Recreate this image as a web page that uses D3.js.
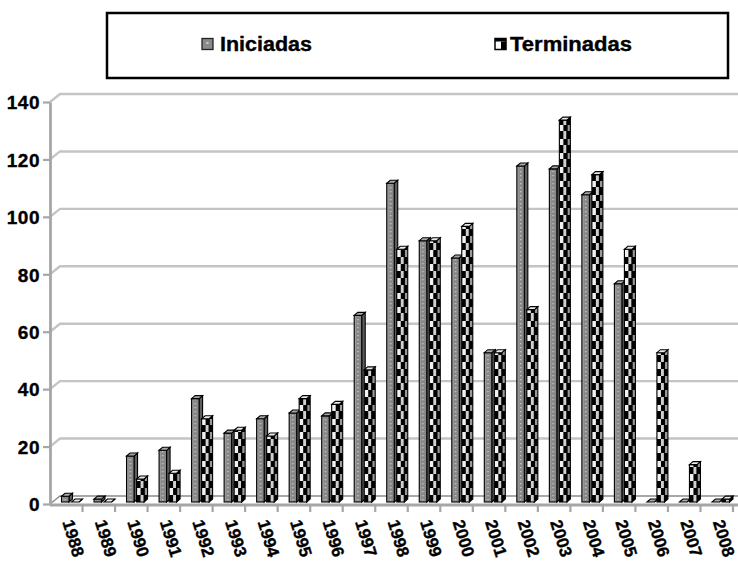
<!DOCTYPE html>
<html>
<head>
<meta charset="utf-8">
<script src="https://cdn.jsdelivr.net/npm/d3@7"></script>
<style>
  body { margin: 0; background: #fff; }
  svg text { font-family: "Liberation Sans", Arial, sans-serif; font-weight: bold; fill: #000; stroke: #000; stroke-width: 0.35px; }
</style>
</head>
<body>
<div id="chart"></div>
<script>
// Obras iniciadas / terminadas por año
var years = ["1988", "1989", "1990", "1991", "1992", "1993", "1994", "1995", "1996", "1997", "1998",
             "1999", "2000", "2001", "2002", "2003", "2004", "2005", "2006", "2007", "2008"];
var iniciadas  = [2, 1, 16, 18, 36, 24, 29, 31, 30, 65, 111, 91, 85, 52, 117, 116, 107, 76, 0, 0, 0];
var terminadas = [0, 0, 8, 10, 29, 25, 23, 36, 34, 46, 88, 91, 96, 52, 67, 133, 114, 88, 52, 13, 1];
var yTicks = [0, 20, 40, 60, 80, 100, 120, 140];
var seriesNames = ["Iniciadas", "Terminadas"];

var svgWidth = 738;
var svgHeight = 562;

// 3D depth of the back wall
var wallDx = 10, wallDy = -8;
// depth of each column
var barW = 7.5, barDx = 3.5, barDy = 3;

var svg = d3.select("#chart")
  .append("svg")
  .attr("width", svgWidth)
  .attr("height", svgHeight);

var x = d3.scaleBand()
  .domain(years)
  .range([50, 733]);

var y = d3.scaleLinear()
  .domain([0, 140])
  .range([504, 102]);

// Patterns
var defs = svg.append("defs");

var pI = defs.append("pattern").attr("id", "iniFront")
  .attr("patternUnits", "userSpaceOnUse").attr("width", 8).attr("height", 4);
pI.append("rect").attr("width", 8).attr("height", 4).attr("fill", "#878787");
pI.append("rect").attr("x", 0).attr("width", 2).attr("height", 4).attr("fill", "#999");
pI.append("rect").attr("x", 3.2).attr("y", 1).attr("width", 1.2).attr("height", 1.3).attr("fill", "#d6d6d6");

var pT = defs.append("pattern").attr("id", "terFront")
  .attr("patternUnits", "userSpaceOnUse").attr("width", 8).attr("height", 14);
pT.append("rect").attr("width", 8).attr("height", 14).attr("fill", "#000");
pT.append("rect").attr("x", 0).attr("y", 0).attr("width", 4).attr("height", 7).attr("fill", "#f2f2f2");
pT.append("rect").attr("x", 4).attr("y", 7).attr("width", 4).attr("height", 7).attr("fill", "#d0d0d0");

var pTs = defs.append("pattern").attr("id", "terSide")
  .attr("patternUnits", "userSpaceOnUse").attr("width", 20).attr("height", 14);
pTs.append("rect").attr("width", 20).attr("height", 14).attr("fill", "#000");
pTs.append("rect").attr("y", 0).attr("width", 20).attr("height", 7).attr("fill", "#9a9a9a");

// Gridlines on side wall and back wall
svg.append("g")
  .selectAll("path")
  .data(yTicks)
  .enter()
  .append("path")
  .attr("d", d => `M50,${y(d)}L${50 + wallDx},${y(d) + wallDy}L${svgWidth},${y(d) + wallDy}`)
  .attr("fill", "none")
  .attr("stroke", d => d === 0 ? "#8c8c8c" : "#c4c4c4")
  .attr("stroke-width", d => d === 0 ? 1.5 : 2.4);

// Y axis
var leftAxis = d3.axisLeft(y).tickValues(yTicks).tickSize(7).tickSizeOuter(0).tickPadding(3);
var yAxis = svg.append("g")
  .attr("transform", "translate(50,0)")
  .call(leftAxis);
yAxis.select(".domain").attr("stroke", "#a6a6a6").attr("stroke-width", 2.8);
yAxis.selectAll(".tick line").attr("stroke", "#a6a6a6").attr("stroke-width", 2.2);
yAxis.selectAll(".tick text")
  .style("font-size", "19px")
  .style("letter-spacing", "0.5px")
  .attr("dy", "0.36em");

// X axis with ticks on category boundaries
var bw = x.bandwidth();
var bottomAxis = d3.axisBottom(x).tickSize(7).tickSizeOuter(0);
var xAxis = svg.append("g")
  .attr("transform", `translate(0,${y(0) + 1})`)
  .call(bottomAxis);
xAxis.select(".domain").attr("stroke", "#a6a6a6").attr("stroke-width", 2.8)
  .attr("d", `M50,0H${svgWidth}`);
xAxis.selectAll(".tick line")
  .attr("stroke", "#a6a6a6").attr("stroke-width", 2.2)
  .attr("transform", `translate(${bw / 2},0)`);
xAxis.selectAll(".tick text")
  .attr("text-anchor", "start")
  .attr("x", 0).attr("y", 0).attr("dy", 0)
  .attr("transform", "translate(-4,17) rotate(73)")
  .style("font-size", "17px");

// Columns
function drawBar(g, h, front, side, top) {
  var side_d = `M${barW},0L${barW + barDx},${-barDy}L${barW + barDx},${-h - barDy}L${barW},${-h}Z`;
  var top_d = `M0,${-h}L${barW},${-h}L${barW + barDx},${-h - barDy}L${barDx},${-h - barDy}Z`;
  g.append("path").attr("d", side_d).attr("fill", side).attr("stroke", "#000").attr("stroke-width", 1.1);
  g.append("rect").attr("x", 0).attr("y", -h).attr("width", barW).attr("height", h)
    .attr("fill", front).attr("stroke", "#000").attr("stroke-width", 1.1);
  g.append("path").attr("d", top_d).attr("fill", top).attr("stroke", "#000").attr("stroke-width", 1.1);
}

var barBase = y(0) - 2;
var bars = svg.append("g");
years.forEach(function(yr, i) {
  var c0 = x(yr);
  var gI = bars.append("g").attr("transform", `translate(${c0 + 11.5},${barBase})`);
  drawBar(gI, y(0) - y(iniciadas[i]), "url(#iniFront)", "#5e5e5e", "#a8a8a8");
  var gT = bars.append("g").attr("transform", `translate(${c0 + 21.5},${barBase})`);
  drawBar(gT, y(0) - y(terminadas[i]), "url(#terFront)", "url(#terSide)", "#ececec");
});

// Legend
var legend = svg.append("g");
legend.append("rect")
  .attr("x", 107).attr("y", 13).attr("width", 621).attr("height", 65)
  .attr("fill", "#fff").attr("stroke", "#000").attr("stroke-width", 2.5);

legend.append("rect").attr("x", 202).attr("y", 38.5).attr("width", 11).attr("height", 11)
  .attr("fill", "#8a8a8a").attr("stroke", "#222").attr("stroke-width", 1.3);
legend.append("rect").attr("x", 206.5).attr("y", 42).attr("width", 2).attr("height", 2).attr("fill", "#d0d0d0");
legend.append("text").attr("x", 220).attr("y", 51)
  .attr("textLength", 92).attr("lengthAdjust", "spacingAndGlyphs")
  .style("font-size", "20px").text(seriesNames[0]);

legend.append("rect").attr("x", 495).attr("y", 38.5).attr("width", 11).attr("height", 11)
  .attr("fill", "#fff").attr("stroke", "#000").attr("stroke-width", 1.5);
legend.append("rect").attr("x", 495).attr("y", 38.5).attr("width", 11).attr("height", 3).attr("fill", "#000");
legend.append("rect").attr("x", 501).attr("y", 41.5).attr("width", 5).attr("height", 8).attr("fill", "#000");
legend.append("text").attr("x", 510).attr("y", 51)
  .attr("textLength", 122).attr("lengthAdjust", "spacingAndGlyphs")
  .style("font-size", "20px").text(seriesNames[1]);
</script>
</body>
</html>
